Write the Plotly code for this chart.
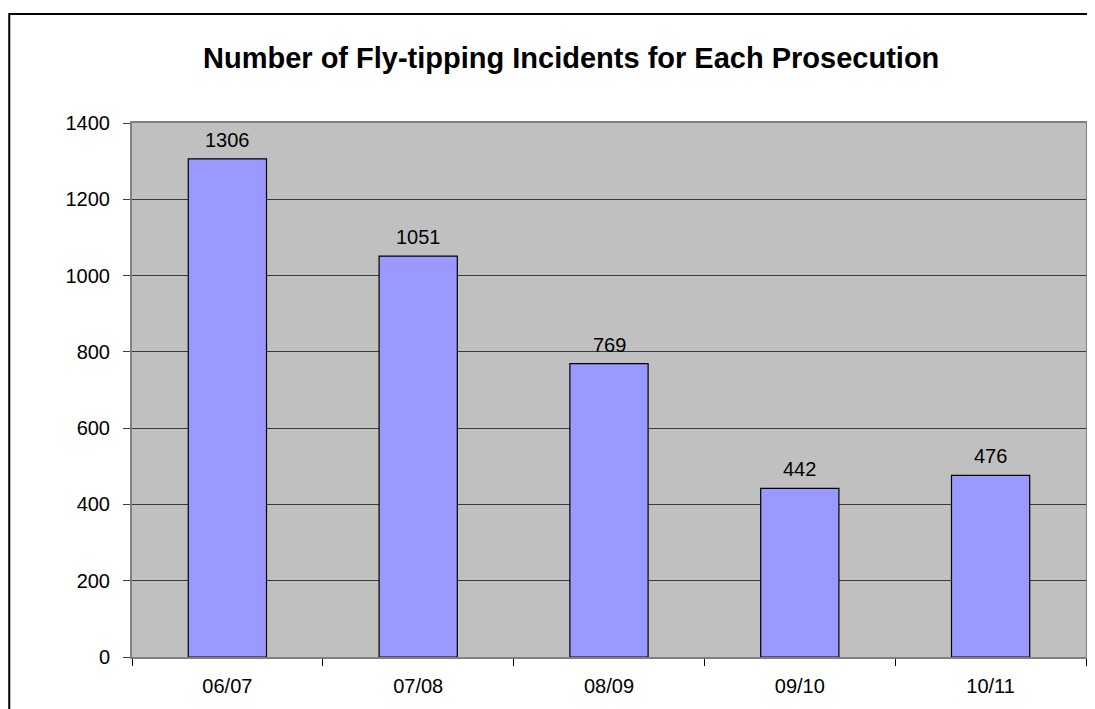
import plotly.graph_objects as go

categories = ["06/07", "07/08", "08/09", "09/10", "10/11"]
values = [1306, 1051, 769, 442, 476]
y_ticks = [0, 200, 400, 600, 800, 1000, 1200, 1400]
title_text = "Number of Fly-tipping Incidents for Each Prosecution"

# page body adds an 8px offset
OFF = 8
W, H = 1095 - OFF, 709 - OFF
L, R, T, B = 132 - OFF, 1095 - 1088, 123 - OFF, 709 - 657
pw, ph = W - L - R, H - T - B

def px_x(x):
    return (x - OFF - L) / pw

def px_y(y):
    return 1 - (y - OFF - T) / ph

FONT = "Liberation Sans, Arial"

fig = go.Figure()
fig.add_trace(go.Bar(
    x=categories, y=values,
    marker=dict(color="#9999FF", line=dict(color="black", width=1.2)),
    width=0.41,
    cliponaxis=False,
))

label_annotations = [
    dict(x=c, y=v, xref="x", yref="y", text=str(v), showarrow=False,
         yanchor="bottom", xanchor="center", yshift=6,
         font=dict(family=FONT, size=20, color="black"))
    for c, v in zip(categories, values)
]

fig.update_layout(
    width=W, height=H,
    margin=dict(l=L, r=R, t=T, b=B),
    paper_bgcolor="white",
    plot_bgcolor="#C0C0C0",
    showlegend=False,
    font=dict(family=FONT, size=20, color="black"),
    xaxis=dict(
        tickson="boundaries", ticks="outside", ticklen=7, tickcolor="black",
        showline=True, linecolor="#808080", linewidth=2, mirror=True,
        showgrid=False, tickfont=dict(size=20), ticklabelstandoff=10,
    ),
    yaxis=dict(
        range=[0, 1400], tickvals=y_ticks, ticks="outside", ticklen=7,
        tickcolor="#404040", showline=True, linecolor="#808080", linewidth=2,
        mirror=True, showgrid=True, gridcolor="#3a3a3a", gridwidth=1,
        zeroline=False, tickfont=dict(size=20), ticklabelstandoff=9,
    ),
    annotations=label_annotations + [dict(
        text="<b>" + title_text + "</b>", xref="paper", yref="paper",
        x=px_x(572), y=px_y(58), xanchor="center", yanchor="middle",
        showarrow=False, font=dict(family=FONT, size=29, color="black"),
    )],
    shapes=[dict(
        type="rect", xref="paper", yref="paper",
        x0=px_x(9), x1=px_x(1110), y0=px_y(730), y1=px_y(14),
        line=dict(color="black", width=2), layer="below",
    )],
)

fig.write_html("out.html")
